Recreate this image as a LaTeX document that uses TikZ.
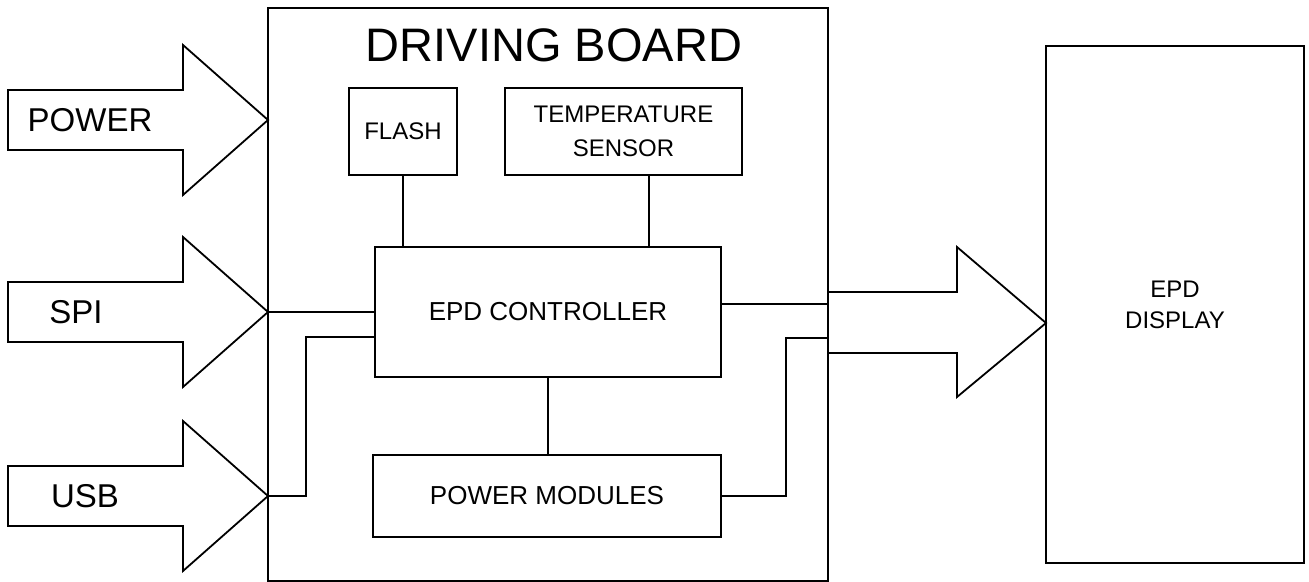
\documentclass[tikz,border=0pt]{standalone}
\usepackage{fontspec}
\setmainfont{Liberation Sans}
\usetikzlibrary{calc}

\begin{document}
\begin{tikzpicture}[x=1pt, y=1pt,
  box/.style={draw, line width=1.8pt, inner sep=0pt, align=center},
  wire/.style={line width=1.8pt},
  fatarrow/.style={draw, line width=1.8pt, line join=miter},
  lbl/.style={font=\fontsize{33}{36}\selectfont, inner sep=0pt},
]
\useasboundingbox (0,0) rectangle (1309,581);

% ====== Driving board ======
\node[box, minimum width=560pt, minimum height=573pt] (board) at (548,286.5) {};
\node[font=\fontsize{47}{50}\selectfont] (title) at (554,536) {DRIVING BOARD};

\node[box, minimum width=108pt, minimum height=87pt, font=\fontsize{24}{34}\selectfont]
  (flash) at (403,449.5) {FLASH};
\node[box, minimum width=237pt, minimum height=87pt, font=\fontsize{24}{34}\selectfont]
  (temp) at (623.5,449.5) {TEMPERATURE\\SENSOR};
\node[box, minimum width=346pt, minimum height=130pt, font=\fontsize{26}{30}\selectfont]
  (ctrl) at (548,269) {EPD CONTROLLER};
\node[box, minimum width=348pt, minimum height=82pt, font=\fontsize{26}{30}\selectfont]
  (pwr) at (547,85) {POWER MODULES};

\draw[wire] (flash.south) -- (flash.south |- ctrl.north);
\draw[wire] ([xshift=25.5pt]temp.south) -- ([xshift=25.5pt]temp.south |- ctrl.north);
\draw[wire] (ctrl.south) -- (ctrl.south |- pwr.north);

% ====== Inputs (left) ======
\foreach \name/\txt/\ty/\lx in {power/POWER/461/90, spi/SPI/269/76, usb/USB/85/85} {
  \draw[fatarrow] (268,\ty) -- ++(-85,75) -- ++(0,-45) -- (8,\ty+30)
    -- ++(0,-60) -- (183,\ty-30) -- ++(0,-45) -- cycle;
  \node[lbl] (l\name) at (\lx,\ty) {\txt};
  \coordinate (t\name) at (268,\ty);
}
\draw[wire] (tspi) -- (tspi -| ctrl.west);
\draw[wire] (tusb) -- ++(38,0) |- ([yshift=-25pt]ctrl.west);

% ====== Output to display (right) ======
\node[box, minimum width=258pt, minimum height=517pt, font=\fontsize{24}{31}\selectfont]
  (disp) at (1175,276.5) {EPD\\DISPLAY};
\draw[fatarrow] (828,289) -- (957,289) -- (957,334) -- (1046,258)
  -- (957,184) -- (957,228) -- (828,228);
\draw[wire] ([yshift=8pt]ctrl.east) -- ([yshift=8pt]ctrl.east -| board.east);
\draw[wire] (pwr.east) -- ++(64,0) |- ([yshift=-26pt]ctrl.east -| board.east);

\end{tikzpicture}
\end{document}
